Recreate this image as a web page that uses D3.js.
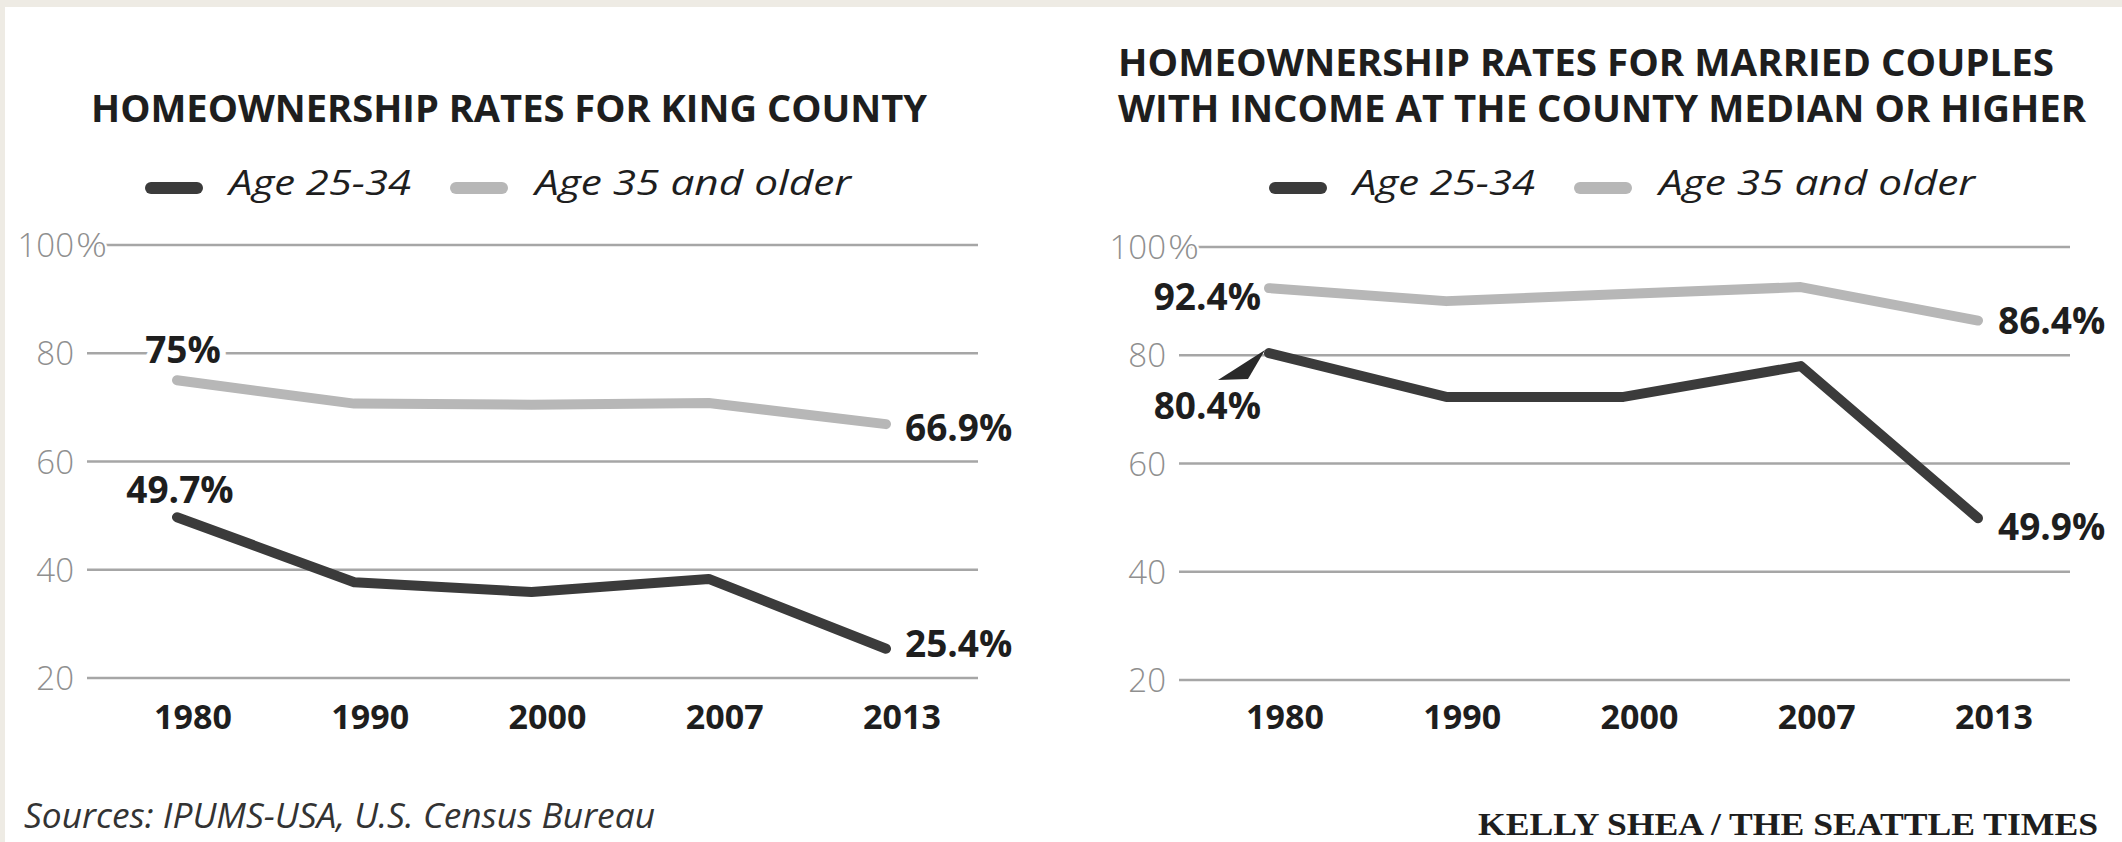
<!DOCTYPE html>
<meta charset="utf-8">
<style>
body { margin: 0; background: #fff; }
svg { display: block; }
.grid line { stroke: #a6a6a6; stroke-width: 2.5px; }
.tick-label { font: 300 33px "Open Sans", sans-serif; fill: #8f8f8f; }
.title { font: 700 37px "Open Sans", sans-serif; fill: #1e1e1e; }
.legend-text { font: italic 400 35px "Open Sans", sans-serif; fill: #1e1e1e; }
.year { font: 700 34px "Open Sans", sans-serif; fill: #1e1e1e; }
.value { font: 700 37px "Open Sans", sans-serif; fill: #1e1e1e; }
.halo { paint-order: stroke; stroke: #fff; stroke-width: 12px; stroke-linejoin: round; }
.line-young, .line-older { fill: none; stroke-width: 10px; stroke-linejoin: round; stroke-linecap: round; }
.line-young { stroke: #3b3b3b; }
.line-older { stroke: #b7b7b7; }
.source { font: italic 400 34px "Open Sans", sans-serif; fill: #333; }
.credit { font: 700 31px "Liberation Serif", serif; fill: #1e1e1e; }
</style>
<svg width="2122" height="842"></svg>
<script src="https://d3js.org/d3.v7.min.js"></script>
<script>
// data
var years = ["1980", "1990", "2000", "2007", "2013"];
var kingYoung = [49.7, 37.7, 35.9, 38.3, 25.4];
var kingOlder = [75, 70.7, 70.5, 70.8, 66.9];
var marriedYoung = [80.4, 72.3, 72.3, 78.0, 49.9];
var marriedOlder = [92.4, 90.0, 91.3, 92.6, 86.4];
var yTicks = [20, 40, 60, 80, 100];
var seriesNames = ["Age 25-34", "Age 35 and older"];
var kingTitle = ["HOMEOWNERSHIP RATES FOR KING COUNTY"];
var marriedTitle = ["HOMEOWNERSHIP RATES FOR MARRIED COUPLES", "WITH INCOME AT THE COUNTY MEDIAN OR HIGHER"];

var svg = d3.select("svg");

// beige frame edges
svg.append("rect").attr("width", 2122).attr("height", 7).attr("fill", "#eeebe4");
svg.append("rect").attr("width", 5).attr("height", 842).attr("fill", "#eeebe4");

var panels = [
  {
    ox: 0, top: 245, title: kingTitle, titleX: 91, titleY: [122], titleW: [836],
    legendX: 145, young: kingYoung, older: kingOlder,
    labels: [
      {s: "older", i: 0, dx: 6, dy: -17, anchor: "middle"},
      {s: "older", i: 4, dx: 19, dy: 17, anchor: "start"},
      {s: "young", i: 0, dx: 3, dy: -14, anchor: "middle"},
      {s: "young", i: 4, dx: 19, dy: 8, anchor: "start"}
    ]
  },
  {
    ox: 1092, top: 247, title: marriedTitle, titleX: 1118, titleY: [76, 122], titleW: [936, 968],
    legendX: 1269, young: marriedYoung, older: marriedOlder, pointer: true,
    labels: [
      {s: "older", i: 0, dx: -8, dy: 22, anchor: "end"},
      {s: "older", i: 4, dx: 20, dy: 13, anchor: "start"},
      {s: "young", i: 0, dx: -8, dy: 66, anchor: "end"},
      {s: "young", i: 4, dx: 20, dy: 22, anchor: "start"}
    ]
  }
];

panels.forEach(function(p) {
  var g = svg.append("g");

  var x = d3.scalePoint()
      .domain(years)
      .range([p.ox + 177, p.ox + 886]);

  var y = d3.scaleLinear()
      .domain([20, 100])
      .range([p.top + 433, p.top]);

  // title
  p.title.forEach(function(t, k) {
    g.append("text")
        .attr("class", "title")
        .attr("x", p.titleX)
        .attr("y", p.titleY[k])
        .attr("textLength", p.titleW[k])
        .attr("lengthAdjust", "spacingAndGlyphs")
        .text(t);
  });

  // legend
  var leg = g.append("g").attr("transform", "translate(" + p.legendX + ",188)");
  [["line-young", 0, 84, 182], ["line-older", 305, 390, 316]].forEach(function(l, k) {
    leg.append("line")
        .attr("class", l[0])
        .attr("x1", l[1] + 6).attr("x2", l[1] + 52)
        .attr("y1", 0).attr("y2", 0)
        .style("stroke-width", "12px");
    leg.append("text")
        .attr("class", "legend-text")
        .attr("x", l[2])
        .attr("y", 7)
        .attr("textLength", l[3])
        .attr("lengthAdjust", "spacingAndGlyphs")
        .text(seriesNames[k]);
  });

  // gridlines
  g.append("g")
      .attr("class", "grid")
      .selectAll("line")
      .data(yTicks)
      .enter().append("line")
      .attr("x1", p.ox + 87)
      .attr("x2", p.ox + 978)
      .attr("y1", function(d) { return y(d); })
      .attr("y2", function(d) { return y(d); });

  // y tick labels, % hangs to the right of 100
  g.selectAll(".tick-label")
      .data(yTicks)
      .enter().append("text")
      .attr("class", "tick-label halo")
      .style("stroke-width", "4px")
      .attr("x", p.ox + 74)
      .attr("y", function(d) { return y(d) + 12; })
      .attr("text-anchor", "end")
      .text(function(d) { return d; });
  g.append("text")
      .attr("class", "tick-label halo")
      .style("stroke-width", "4px")
      .attr("x", p.ox + 76)
      .attr("y", y(100) + 12)
      .attr("textLength", 31)
      .attr("lengthAdjust", "spacingAndGlyphs")
      .text("%");

  // x labels
  g.selectAll(".year")
      .data(years)
      .enter().append("text")
      .attr("class", "year")
      .attr("x", function(d) { return x(d) + 16; })
      .attr("y", 729)
      .attr("text-anchor", "middle")
      .text(function(d) { return d; });

  // value labels
  g.selectAll(".value")
      .data(p.labels)
      .enter().append("text")
      .attr("class", "value halo")
      .attr("x", function(d) { return x(years[d.i]) + d.dx; })
      .attr("y", function(d) { return y(p[d.s][d.i]) + d.dy; })
      .attr("text-anchor", function(d) { return d.anchor; })
      .text(function(d) { return p[d.s][d.i] + "%"; });

  if (p.pointer) {
    var px = x(years[0]), py = y(p.young[0]);
    g.append("path")
        .attr("d", "M" + (px - 4) + "," + (py - 3) +
                   "L" + (px - 51) + "," + (py + 27) +
                   "L" + (px - 21) + "," + (py + 26) + "Z")
        .attr("fill", "#2a2a2a");
  }

  // lines
  var line = d3.line()
      .x(function(d, i) { return x(years[i]); })
      .y(function(d) { return y(d); });

  g.append("path").datum(p.older).attr("class", "line-older").attr("d", line);
  g.append("path").datum(p.young).attr("class", "line-young").attr("d", line);
});

svg.append("text")
    .attr("class", "source")
    .attr("x", 24)
    .attr("y", 828)
    .attr("textLength", 631)
    .attr("lengthAdjust", "spacingAndGlyphs")
    .text("Sources: IPUMS-USA, U.S. Census Bureau");

svg.append("text")
    .attr("class", "credit")
    .attr("x", 1478)
    .attr("y", 835)
    .attr("textLength", 620)
    .attr("lengthAdjust", "spacingAndGlyphs")
    .text("KELLY SHEA / THE SEATTLE TIMES");
</script>
